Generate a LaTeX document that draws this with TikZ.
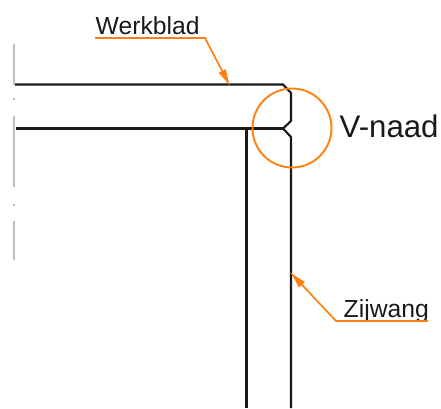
\documentclass[tikz,border=0pt]{standalone}
\usepackage{fontspec}
\setmainfont{Liberation Sans}
\usetikzlibrary{arrows.meta}
\tikzset{
  profile/.style={line width=2.1pt, black!90},
  hint/.style={line width=1.7pt, draw=naadorange},
  tip/.style={hint, -{Latex[length=18pt,width=8.5pt]}},
  label/.style={inner sep=0pt, text=black!90},
}
\definecolor{naadorange}{RGB}{255,128,16}
\begin{document}
\begin{tikzpicture}[x=1pt, y=-1pt]
\useasboundingbox (0,0) rectangle (441,408);
% hartlijn links
\foreach \ya/\yb in {44/85, 98/100, 116/187, 204/206, 221/260}
  \draw[line width=2.6pt, black!25] (14,\ya) -- (14,\yb);
% werkblad en zijwang
\coordinate (topleft) at (15,84.5);
\coordinate (innerleft) at (16,128.5);
\coordinate (topcorner) at (283,84.5);
\coordinate (nosetop) at (291,93);
\coordinate (noseup) at (291,121);
\coordinate (nose) at (283,128.5);
\coordinate (nosedown) at (291,137);
\coordinate (outerbottom) at (291,408);
\coordinate (innercorner) at (246.5,128.5);
\coordinate (innerbottom) at (246.5,408);
\draw[profile] (topleft) -- (topcorner) -- (nosetop) -- (noseup) -- (nose) -- (nosedown) -- (outerbottom);
\draw[profile] (innerleft) -- (nose);
\draw[profile] (innercorner) -- (innerbottom);
% v-naad
\node[circle, draw=naadorange, line width=1.9pt, minimum size=79pt, inner sep=0pt] (circleV) at (292,128) {};
\node[label, font=\fontsize{31.2}{31.2}\selectfont, anchor=base west] (vnaad) at (339.5,137) {V-naad};
% werkblad label
\node[label, font=\fontsize{24.7}{24.7}\selectfont, anchor=base west] (werkblad) at (95.5,34.5) {Werkblad};
\coordinate (werkbladstart) at (95,38);
\coordinate (werkbladkink) at (205,38);
\coordinate (werkbladend) at (230.5,87);
\draw[tip] (werkbladstart) -- (werkbladkink) -- (werkbladend);
% zijwang label
\node[label, font=\fontsize{24.7}{24.7}\selectfont, anchor=base west] (zijwang) at (343.5,317) {Zijwang};
\coordinate (zijwangstart) at (428,321);
\coordinate (zijwangkink) at (336,321);
\coordinate (zijwangend) at (289.5,271.5);
\draw[tip] (zijwangstart) -- (zijwangkink) -- (zijwangend);
\end{tikzpicture}
\end{document}
